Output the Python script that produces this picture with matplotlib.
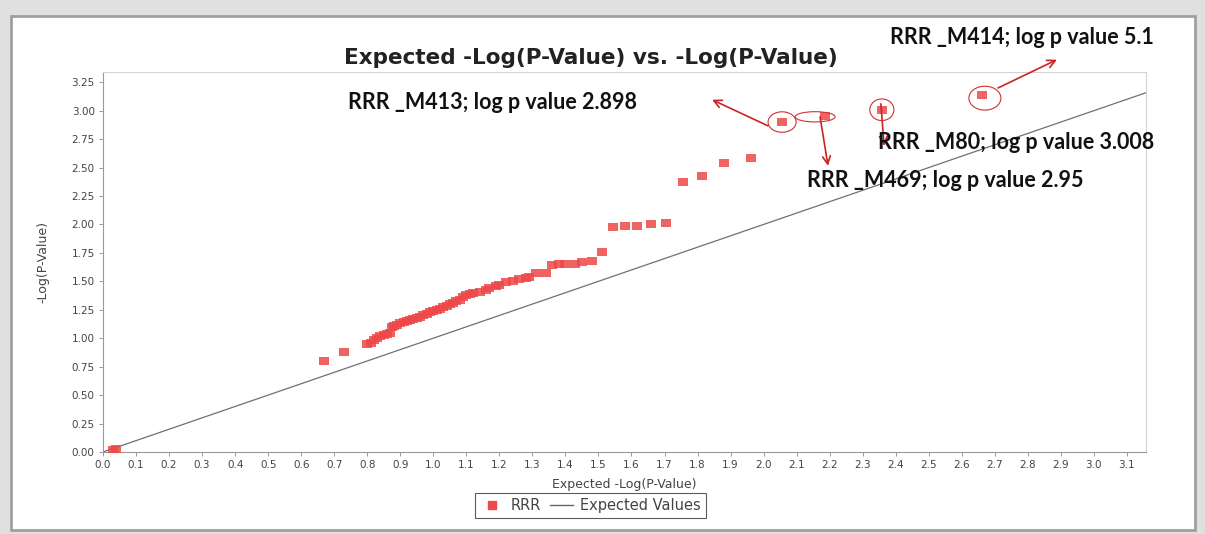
import matplotlib
matplotlib.use('Agg')
import matplotlib.pyplot as plt
from matplotlib.patches import Rectangle, Ellipse
from matplotlib.lines import Line2D
import numpy as np

# observed vs expected -log(p) for RRR
exp_vals = [0.03, 0.04, 0.67, 0.73,
            0.80, 0.81, 0.82, 0.83, 0.84, 0.85, 0.86, 0.87, 0.875, 0.88,
            0.89, 0.90, 0.91, 0.92, 0.93, 0.94, 0.95, 0.96, 0.97, 0.98,
            0.99, 1.00, 1.01, 1.02, 1.03, 1.04, 1.05, 1.06, 1.07, 1.08,
            1.09, 1.10, 1.11, 1.12, 1.14, 1.16, 1.17, 1.19, 1.20, 1.22,
            1.24, 1.26, 1.28, 1.29, 1.31, 1.34, 1.36, 1.38, 1.40, 1.43,
            1.45, 1.48, 1.51,
            1.545, 1.58, 1.617, 1.66, 1.705, 1.756, 1.813, 1.88, 1.962,
            2.056, 2.186, 2.358, 2.661]
obs_vals = [0.02, 0.03, 0.80, 0.88,
            0.95, 0.96, 0.98, 1.00, 1.02, 1.03, 1.04, 1.05, 1.10, 1.11,
            1.12, 1.13, 1.14, 1.15, 1.16, 1.17, 1.18, 1.19, 1.20, 1.21,
            1.23, 1.24, 1.25, 1.26, 1.27, 1.28, 1.30, 1.31, 1.33, 1.34,
            1.36, 1.38, 1.39, 1.40, 1.41, 1.42, 1.44, 1.46, 1.47, 1.49,
            1.50, 1.52, 1.53, 1.54, 1.57, 1.57, 1.64, 1.65, 1.65, 1.65,
            1.67, 1.68, 1.76,
            1.98, 1.99, 1.99, 2.005, 2.015, 2.375, 2.43, 2.54, 2.58,
            2.898, 2.95, 3.008, 3.14]

# highlighted markers: label, point, ellipse size, arrow start, arrow tip, text pos
hl_labels = ['RRR _M413; log p value 2.898', 'RRR _M469; log p value 2.95',
             'RRR _M80; log p value 3.008', 'RRR _M414; log p value 5.1']
hl_center = [(2.056, 2.90), (2.156, 2.946), (2.358, 3.008), (2.67, 3.11)]
hl_size = [(0.085, 0.18), (0.121, 0.09), (0.073, 0.19), (0.097, 0.21)]
arrow_from = [(2.013, 2.867), (2.171, 2.946), (2.355, 3.06), (2.71, 3.20)]
arrow_to = [(1.844, 3.096), (2.195, 2.515), (2.365, 2.69), (2.888, 3.448)]
text_pos = [(0.742, 3.07), (2.131, 2.383), (2.346, 2.718), (2.383, 3.64)]

xmax, ymax = 3.158, 3.34
red = '#EE4848'
small_font = 'DejaVu Sans'

fig = plt.figure(figsize=(12.05, 5.34), dpi=100)
fig.patch.set_facecolor('#e0e0e0')
fig.patches.append(Rectangle((0.0091, 0.0075), 0.983, 0.9625, transform=fig.transFigure,
                             facecolor='white', edgecolor='#a0a0a0', linewidth=2, zorder=-5))

ax = fig.add_axes([0.0855, 0.1536, 0.8656, 0.7116])
ax.set_facecolor('white')

line_x = np.array([0, xmax])
ax.plot(line_x, line_x, color='#707070', linewidth=0.9, zorder=2)

marker = [(-1, -0.8), (1, -0.8), (1, 0.8), (-1, 0.8)]
ax.scatter(exp_vals, obs_vals, s=58, marker=marker, color=red, alpha=0.85,
           linewidths=0, zorder=3)

for lab, c, sz, a0, a1, tp in zip(hl_labels, hl_center, hl_size, arrow_from, arrow_to, text_pos):
    ax.add_patch(Ellipse(c, sz[0], sz[1], fill=False, edgecolor='#d03030',
                         linewidth=0.8, zorder=4, clip_on=False))
    ax.annotate('', xy=a1, xytext=a0, annotation_clip=False,
                arrowprops=dict(arrowstyle='->', color='#cc2222', lw=1.2,
                                shrinkA=0, shrinkB=0, mutation_scale=14))
    ax.text(tp[0], tp[1], lab, fontsize=15.5, fontweight='bold', family='Lato',
            color='#111111', va='center', ha='left', zorder=5, clip_on=False)

ax.set_xlim(0, xmax)
ax.set_ylim(0, ymax)
ax.set_xticks(np.round(np.arange(0, 3.15, 0.1), 1))
ax.set_xticklabels([f'{v:.1f}' for v in np.arange(0, 3.15, 0.1)])
ax.set_yticks(np.arange(0, 3.26, 0.25))
ax.set_yticklabels([f'{v:.2f}' for v in np.arange(0, 3.26, 0.25)])
ax.tick_params(axis='both', labelsize=7.5, colors='#888888', labelcolor='#444444',
               length=3, width=0.6, pad=3)
for lbl in ax.get_xticklabels() + ax.get_yticklabels():
    lbl.set_family(small_font)

for side in ['top', 'right']:
    ax.spines[side].set_color('#d4d4d4')
    ax.spines[side].set_linewidth(0.8)
for side in ['left', 'bottom']:
    ax.spines[side].set_color('#999999')
    ax.spines[side].set_linewidth(0.8)

ax.set_xlabel('Expected -Log(P-Value)', fontsize=9, color='#444444', family=small_font)
ax.set_ylabel('-Log(P-Value)', fontsize=9, color='#444444', family=small_font)
ax.xaxis.set_label_coords(0.5, -0.068)
ax.yaxis.set_label_coords(-0.051, 0.5)

fig.text(0.49, 0.891, 'Expected -Log(P-Value) vs. -Log(P-Value)', ha='center', va='center',
         fontsize=15.5, fontweight='bold', family=small_font, color='#222222')

handles = [Line2D([], [], marker='s', linestyle='none', color=red, markersize=6),
           Line2D([], [], color='#666666', linewidth=1)]
leg = fig.legend(handles, ['RRR', 'Expected Values'], loc='center',
                 bbox_to_anchor=(0.49, 0.054), ncol=2, frameon=True, fancybox=False,
                 prop={'family': small_font, 'size': 10.5}, handlelength=1.6,
                 handletextpad=0.5, columnspacing=0.6, borderpad=0.35)
leg.get_frame().set_edgecolor('#333333')
leg.get_frame().set_linewidth(0.8)
for t in leg.get_texts():
    t.set_color('#444444')

fig.savefig('out.png', dpi=100, facecolor=fig.get_facecolor())
